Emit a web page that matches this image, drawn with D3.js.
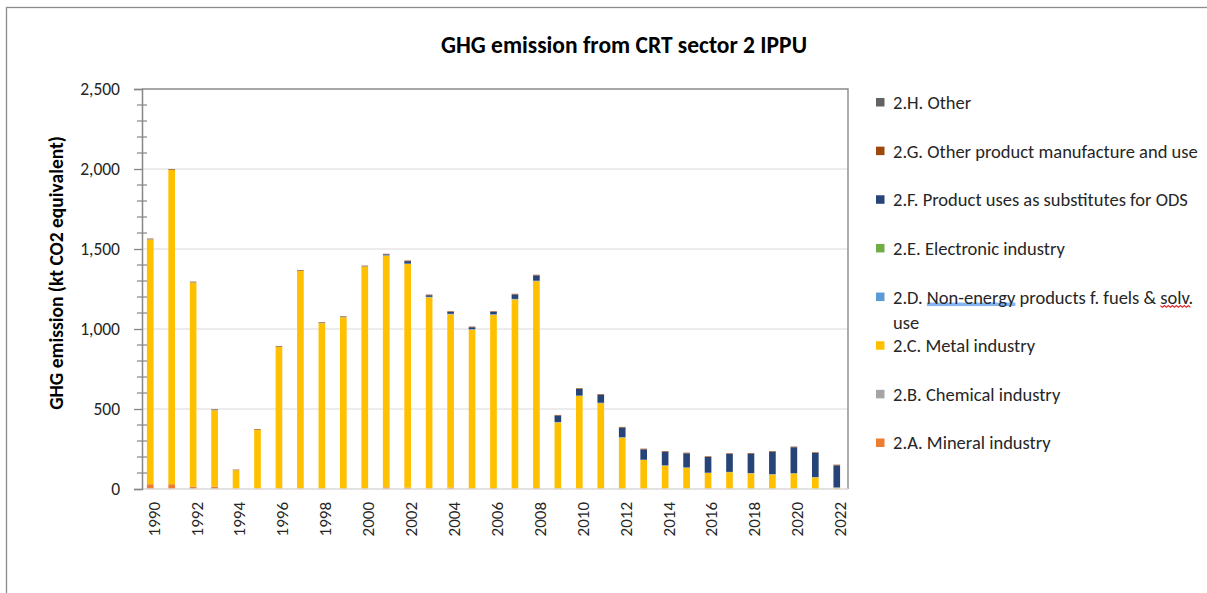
<!DOCTYPE html>
<html>
<head>
<meta charset="utf-8">
<script src="https://cdn.jsdelivr.net/npm/d3@7"></script>
<style>
  html, body { margin: 0; padding: 0; background: #fff; }
  svg { display: block; }
</style>
</head>
<body>
<svg id="chart" width="1207" height="593"></svg>
<script>
// ---------- DATA ----------
const years = ["1990","1991","1992","1993","1994","1995","1996","1997","1998","1999",
  "2000","2001","2002","2003","2004","2005","2006","2007","2008","2009",
  "2010","2011","2012","2013","2014","2015","2016","2017","2018","2019",
  "2020","2021","2022"];

const mineral  = [30,30,15,15,0,0,0,0,0,0, 0,10,8,0,8,0,6,0,6,0, 0,0,0,0,0,0,0,0,0,0, 0,0,0];
const chemical = [0,0,0,0,0,0,0,0,0,0, 0,0,0,0,0,0,0,0,0,0, 0,0,0,0,0,0,0,0,0,0, 0,0,0];
const metal    = [1529,1964,1275,477,117,369,888,1363,1036,1073,
                  1390,1448,1398,1198,1084,996,1083,1185,1293,416,
                  581,536,321,181,146,133,100,105,98,91,
                  97,73,8];
const nonEnergy = [2,2,2,2,1,1,2,2,2,2, 2,3,3,3,3,3,3,3,3,3, 3,3,3,2,2,2,2,2,2,2, 2,2,2];
const electronic = [0,0,0,0,0,0,0,0,0,0, 0,0,0,0,0,0,0,0,0,0, 0,0,0,0,0,0,0,0,0,0, 0,0,0];
const odsSubst = [0,0,0,0,0,0,0,0,0,0, 0,5,15,10,12,12,15,28,33,40, 42,50,60,65,85,88,98,112,121,140, 162,150,138];
const otherProd = [4,4,4,4,3,4,4,4,4,4, 4,4,4,4,4,4,4,4,4,4, 4,4,4,4,4,4,4,4,4,4, 4,4,4];
const other = [0,0,0,0,0,0,0,0,0,0, 0,0,0,0,0,0,0,0,0,0, 0,0,0,0,0,0,0,0,0,0, 0,0,0];

const seriesKeys = ["A","B","C","D","E","F","G","H"];
const seriesNames = [
  "2.A. Mineral industry",
  "2.B. Chemical industry",
  "2.C. Metal industry",
  "2.D. Non-energy products f. fuels & solv. use",
  "2.E. Electronic industry",
  "2.F. Product uses as substitutes for ODS",
  "2.G. Other product manufacture and use",
  "2.H. Other"
];
const seriesColors = ["#ed7d31","#a5a5a5","#ffc000","#5b9bd5","#70ad47","#264478","#9e480e","#636363"];
const yTickValues = [0,500,1000,1500,2000,2500];
const xTickLabels = years.filter((d,i) => i % 2 === 0);

const title = "GHG emission from CRT sector 2 IPPU";
const yTitle = "GHG emission (kt CO2 equivalent)";

// ---------- BUILD TABLE ----------
const seriesArrays = [mineral, chemical, metal, nonEnergy, electronic, odsSubst, otherProd, other];
const table = years.map((y, i) => {
  const row = { year: y };
  seriesKeys.forEach((k, j) => row[k] = seriesArrays[j][i]);
  return row;
});

// ---------- LAYOUT ----------
const FONT = "Carlito, Calibri, 'Liberation Sans', Arial, sans-serif";
const svg = d3.select("#chart");
const plot = { left: 142, top: 89, right: 848, bottom: 489 };

// chart frame (only left and top edges visible)
svg.append("rect")
  .attr("x", 6.5).attr("y", 7.5).attr("width", 1300).attr("height", 700)
  .attr("fill", "none").attr("stroke", "#8c8c8c").attr("stroke-width", 1.3);

const x = d3.scaleBand().domain(years).range([139.5, 847.5]).paddingInner(0.69).paddingOuter(0.345);
const y = d3.scaleLinear().domain([0, 2500]).range([plot.bottom, plot.top]);

// gridlines
svg.append("g").selectAll("line")
  .data(yTickValues.filter(v => v > 0 && v < 2500))
  .join("line")
  .attr("x1", plot.left).attr("x2", plot.right)
  .attr("y1", d => y(d)).attr("y2", d => y(d))
  .attr("stroke", "#d9d9d9").attr("stroke-width", 1.2);

// plot area top and right border
svg.append("path")
  .attr("d", `M${plot.left},${plot.top}H${plot.right}V${plot.bottom}`)
  .attr("fill", "none").attr("stroke", "#8a8a8a").attr("stroke-width", 1.4);

// stacked bars
const stack = d3.stack().keys(seriesKeys);
const stacked = stack(table);
svg.append("g").selectAll("g")
  .data(stacked)
  .join("g")
  .attr("fill", (d, i) => seriesColors[i])
  .selectAll("rect")
  .data(d => d)
  .join("rect")
  .attr("x", d => x(d.data.year))
  .attr("width", x.bandwidth())
  .attr("y", d => y(d[1]))
  .attr("height", d => Math.max(0, y(d[0]) - y(d[1])));

// bottom axis line
svg.append("line")
  .attr("x1", plot.left).attr("x2", plot.right)
  .attr("y1", plot.bottom).attr("y2", plot.bottom)
  .attr("stroke", "#d9d9d9").attr("stroke-width", 1.6);

// y axis
const yAxis = d3.axisLeft(y).tickValues(yTickValues).tickSize(8).tickPadding(14)
  .tickFormat(d3.format(","));
const gy = svg.append("g").attr("transform", `translate(${plot.left},0)`).call(yAxis);
gy.select(".domain").attr("stroke", "#868686").attr("stroke-width", 1.5);
gy.selectAll(".tick line").attr("stroke", "#868686").attr("stroke-width", 1.3);
gy.selectAll(".tick text").attr("font-family", FONT).attr("font-size", 17.5).attr("fill", "#262626");

// minor ticks (cross)
const minor = d3.range(0, 2501, 100).filter(v => v % 500 !== 0);
svg.append("g").selectAll("line").data(minor).join("line")
  .attr("x1", plot.left - 5).attr("x2", plot.left + 5)
  .attr("y1", d => y(d)).attr("y2", d => y(d))
  .attr("stroke", "#868686").attr("stroke-width", 1.2);

// x labels
const xAxis = d3.axisBottom(x).tickValues(xTickLabels).tickSize(0).tickPadding(0);
const gx = svg.append("g").attr("transform", `translate(3.5,${plot.bottom})`).call(xAxis);
gx.select(".domain").remove();
gx.selectAll(".tick text")
  .attr("font-family", FONT).attr("font-size", 17).attr("fill", "#262626")
  .attr("text-anchor", "end")
  .attr("transform", "rotate(-90)")
  .attr("x", -13).attr("y", 0).attr("dy", "0.35em");

// title
svg.append("text")
  .attr("x", 624).attr("y", 53)
  .attr("text-anchor", "middle")
  .attr("font-family", FONT).attr("font-size", 23.5).attr("font-weight", "bold")
  .attr("fill", "#000")
  .text(title);

// y title
svg.append("text")
  .attr("transform", "translate(63,273) rotate(-90)")
  .attr("text-anchor", "middle")
  .attr("font-family", FONT).attr("font-size", 19.5).attr("font-weight", "bold")
  .attr("fill", "#000")
  .text(yTitle);

// legend (reverse order: H at top)
const LFS = 18.5;
const legendOrder = seriesKeys.map((k, i) => i).reverse();
const ly = d3.scalePoint().domain(legendOrder).range([102.5, 443]);
const lg = svg.append("g");
legendOrder.forEach(i => {
  const cy = ly(i);
  lg.append("rect").attr("x", 876).attr("y", cy - 4.5).attr("width", 8.5).attr("height", 8.5)
    .attr("fill", seriesColors[i]);
  const name = seriesNames[i];
  if (seriesKeys[i] === "D") {
    const line1 = "2.D. Non-energy products f. fuels & solv.";
    const t = lg.append("text").attr("x", 893).attr("y", cy).attr("dy", "0.35em")
      .attr("font-family", FONT).attr("font-size", LFS).attr("fill", "#262626")
      .text(line1);
    lg.append("text").attr("x", 893).attr("y", cy + 25).attr("dy", "0.35em")
      .attr("font-family", FONT).attr("font-size", LFS).attr("fill", "#262626")
      .text("use");
    // spell-check style marks
    const node = t.node();
    const s1 = line1.indexOf("Non-energy");
    const e1 = s1 + "Non-energy".length - 1;
    const bx0 = node.getStartPositionOfChar(s1).x;
    const bx1 = node.getEndPositionOfChar(e1).x;
    lg.insert("rect", ":first-child").attr("x", bx0).attr("y", cy + 5.5).attr("width", bx1 - bx0).attr("height", 3.5)
      .attr("fill", "#6fa8f0").attr("opacity", 0.85);
    const s2 = line1.indexOf("solv");
    const rx0 = node.getStartPositionOfChar(s2).x;
    const rx1 = node.getEndPositionOfChar(s2 + 3).x;
    let d = `M${rx0},${cy + 8.5}`;
    for (let xx = rx0, k = 0; xx < rx1; xx += 2, k++) d += `L${xx + 2},${cy + 8.5 + (k % 2 ? 0 : 1.8)}`;
    lg.append("path").attr("d", d).attr("fill", "none").attr("stroke", "#e02020").attr("stroke-width", 1.1);
  } else {
    lg.append("text").attr("x", 893).attr("y", cy).attr("dy", "0.35em")
      .attr("font-family", FONT).attr("font-size", LFS).attr("fill", "#262626")
      .text(name);
  }
});
</script>
</body>
</html>
